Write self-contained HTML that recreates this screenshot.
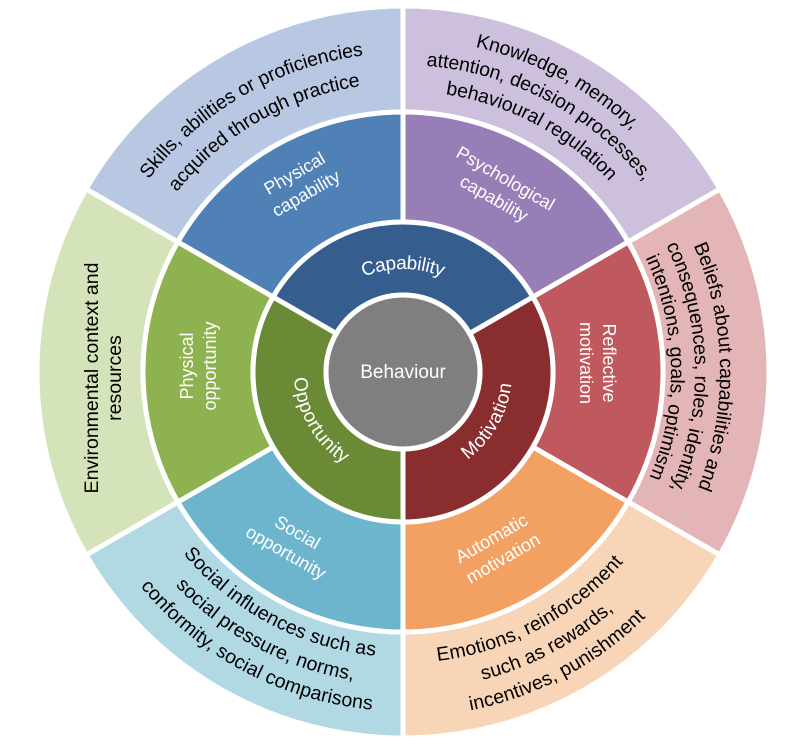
<!DOCTYPE html>
<html><head><meta charset="utf-8"><style>
html,body{margin:0;padding:0;background:#fff;}
svg{display:block;}
text{font-family:"Liberation Sans",sans-serif;}
.o{font-size:19.5px;fill:#000;}
.m{font-size:18px;fill:#fff;}
.i{font-size:19px;fill:#fff;}
</style></head><body>
<svg id="s" width="794" height="753" viewBox="0 0 794 753">
<defs id="d"></defs>
<g id="g"></g>
<circle cx="403" cy="372" r="77" fill="#7f7f7f" stroke="#fff" stroke-width="5"/>
<text class="i" x="403" y="378" text-anchor="middle">Behaviour</text>

<text class="i" dominant-baseline="middle" text-anchor="middle"><textPath href="#i0" startOffset="50%">Capability</textPath></text>
<text class="i" dominant-baseline="middle" text-anchor="middle"><textPath href="#i1" startOffset="50%">Motivation</textPath></text>
<text class="i" dominant-baseline="middle" text-anchor="middle"><textPath href="#i2" startOffset="50%">Opportunity</textPath></text>

<g transform="translate(300,183) rotate(-30)"><text class="m" text-anchor="middle" y="-5">Physical</text><text class="m" text-anchor="middle" y="18">capability</text></g>
<g transform="translate(500,188) rotate(30)"><text class="m" text-anchor="middle" y="-5">Psychological</text><text class="m" text-anchor="middle" y="18">capability</text></g>
<g transform="translate(598,363) rotate(90)"><text class="m" text-anchor="middle" y="-5">Reflective</text><text class="m" text-anchor="middle" y="18">motivation</text></g>
<g transform="translate(497,548) rotate(-30)"><text class="m" text-anchor="middle" y="-5">Automatic</text><text class="m" text-anchor="middle" y="18">motivation</text></g>
<g transform="translate(292,542) rotate(30)"><text class="m" text-anchor="middle" y="-5">Social</text><text class="m" text-anchor="middle" y="18">opportunity</text></g>
<g transform="translate(198,366) rotate(-90)"><text class="m" text-anchor="middle" y="-5">Physical</text><text class="m" text-anchor="middle" y="18">opportunity</text></g>

<text class="o" dominant-baseline="middle" text-anchor="middle"><textPath href="#a1" startOffset="50%">Skills, abilities or proficiencies</textPath></text>
<text class="o" dominant-baseline="middle" text-anchor="middle"><textPath href="#a2" startOffset="50%">acquired through practice</textPath></text>
<text class="o" dominant-baseline="middle" text-anchor="middle"><textPath href="#b1" startOffset="50%">Knowledge, memory,</textPath></text>
<text class="o" dominant-baseline="middle" text-anchor="middle"><textPath href="#b2" startOffset="50%">attention, decision processes,</textPath></text>
<text class="o" dominant-baseline="middle" text-anchor="middle"><textPath href="#b3" startOffset="50%">behavioural regulation</textPath></text>
<text class="o" dominant-baseline="middle" text-anchor="middle"><textPath href="#c1" startOffset="50%">Beliefs about capabilities and</textPath></text>
<text class="o" dominant-baseline="middle" text-anchor="middle"><textPath href="#c2" startOffset="50%">consequences, roles, identity,</textPath></text>
<text class="o" dominant-baseline="middle" text-anchor="middle"><textPath href="#c3" startOffset="50%">intentions, goals, optimism</textPath></text>
<text class="o" dominant-baseline="middle" text-anchor="middle"><textPath href="#e1" startOffset="50%">Emotions, reinforcement</textPath></text>
<text class="o" dominant-baseline="middle" text-anchor="middle"><textPath href="#e2" startOffset="50%">such as rewards,</textPath></text>
<text class="o" dominant-baseline="middle" text-anchor="middle"><textPath href="#e3" startOffset="50%">incentives, punishment</textPath></text>
<text class="o" dominant-baseline="middle" text-anchor="middle"><textPath href="#f1" startOffset="50%">Social influences such as</textPath></text>
<text class="o" dominant-baseline="middle" text-anchor="middle"><textPath href="#f2" startOffset="50%">social pressure, norms,</textPath></text>
<text class="o" dominant-baseline="middle" text-anchor="middle"><textPath href="#f3" startOffset="50%">conformity, social comparisons</textPath></text>
<g transform="translate(103,378) rotate(-90)"><text class="o" text-anchor="middle" y="-5">Environmental context and</text><text class="o" text-anchor="middle" y="18">resources</text></g>
</svg>
<script>
var cx=403,cy=372,NS="http://www.w3.org/2000/svg";
function P(a,r){var t=a*Math.PI/180;return [cx+r*Math.sin(t),cy-r*Math.cos(t)];}
function sector(a0,a1,r0,r1,fill){
 var p1=P(a0,r1),p2=P(a1,r1),p3=P(a1,r0),p4=P(a0,r0);
 var d="M"+p1+"A"+r1+","+r1+" 0 0 1 "+p2+"L"+p3+"A"+r0+","+r0+" 0 0 0 "+p4+"Z";
 var e=document.createElementNS(NS,"path");e.setAttribute("d",d);e.setAttribute("fill",fill);
 e.setAttribute("stroke","#fff");e.setAttribute("stroke-width","5");e.setAttribute("stroke-linejoin","round");
 document.getElementById("g").appendChild(e);}
function arc(id,a,r,span,cw){
 var s=cw?a-span:a+span,t=cw?a+span:a-span,p=P(s,r),q=P(t,r);
 var e=document.createElementNS(NS,"path");e.setAttribute("id",id);
 e.setAttribute("d","M"+p+"A"+r+","+r+" 0 0 "+(cw?1:0)+" "+q);
 document.getElementById("d").appendChild(e);}
var outer=["#b8c8e2","#cdc0dc","#e4b5b7","#f9d5b8","#b0d9e4","#d4e3ba"];
var mid=["#4f80b6","#977eb7","#c0595d","#f2a163","#6cb5cd","#8fb250"];
var segs=[[-60,0],[0,60],[60,120],[120,180],[180,240],[240,300]];
for(var k=0;k<6;k++){sector(segs[k][0],segs[k][1],260,366,outer[k]);sector(segs[k][0],segs[k][1],150,260,mid[k]);}
sector(-60,60,77,150,"#355e8e");
sector(60,180,77,150,"#8a2d2f");
sector(180,300,77,150,"#6a8a36");
arc("i0",0,108,60,true);arc("i1",120,104,60,false);arc("i2",240,104,60,false);
arc("a1",-30,324,50,true);arc("a2",-30,294,50,true);
arc("b1",28,338,45,true);arc("b2",28,312,50,true);arc("b3",28,286,50,true);
arc("c1",89,322,50,true);arc("c2",89,297,50,true);arc("c3",89,273,50,true);
arc("e1",152,286,50,false);arc("e2",152,313,50,false);arc("e3",152,340,50,false);
arc("f1",208,280,50,false);arc("f2",208,307,50,false);arc("f3",208,334,50,false);
</script>
</body></html>
